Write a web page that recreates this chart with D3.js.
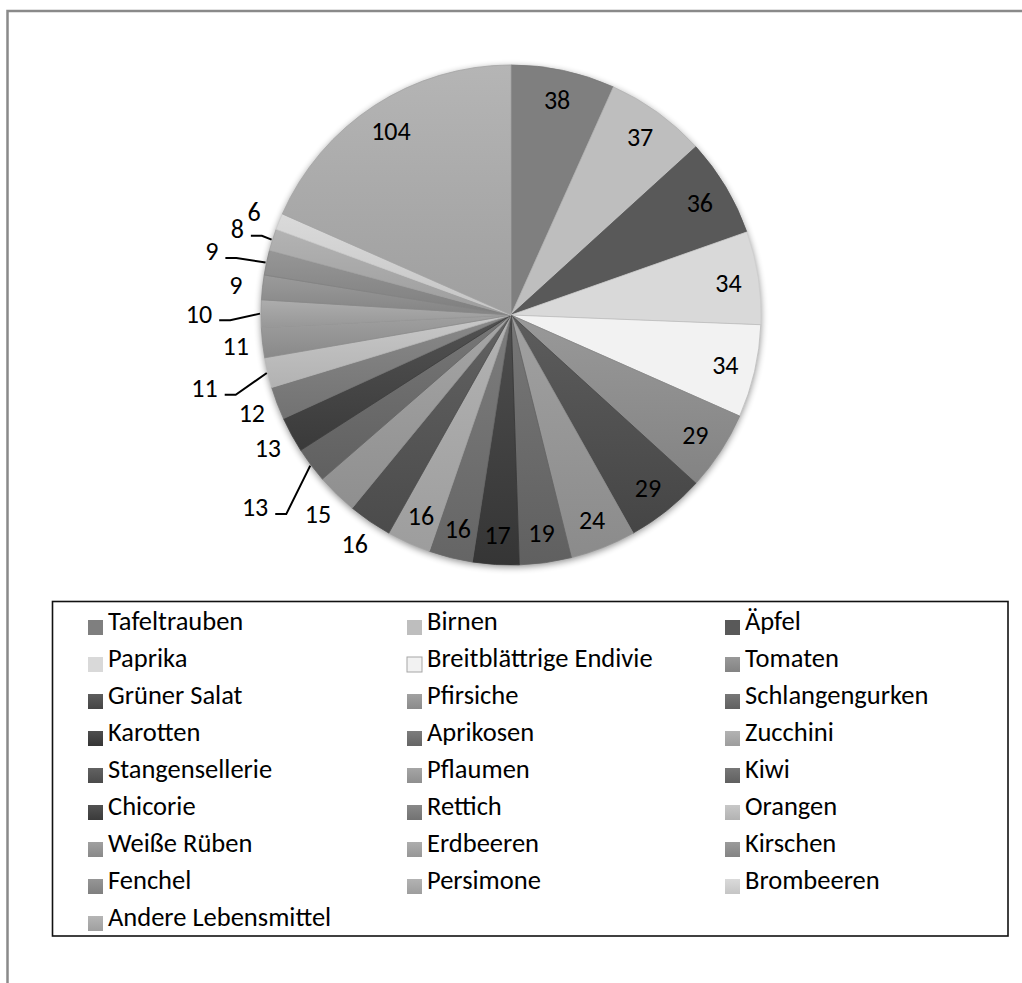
<!DOCTYPE html>
<html>
<head>
<meta charset="utf-8">
<script src="https://cdn.jsdelivr.net/npm/d3@7"></script>
<style>
html,body{margin:0;padding:0;background:#fff;overflow:hidden}
text{font-family:Carlito,Lato,"Open Sans",sans-serif;fill:#000}
</style>
</head>
<body>
<svg id="chart" width="1022" height="983"></svg>
<script>
// ---- data ----
const categories = ["Tafeltrauben","Birnen","Äpfel","Paprika","Breitblättrige Endivie","Tomaten",
  "Grüner Salat","Pfirsiche","Schlangengurken","Karotten","Aprikosen","Zucchini",
  "Stangensellerie","Pflaumen","Kiwi","Chicorie","Rettich","Orangen",
  "Weiße Rüben","Erdbeeren","Kirschen","Fenchel","Persimone","Brombeeren","Andere Lebensmittel"];
const values = [38,37,36,34,34,29,29,24,19,17,16,16,16,15,13,13,12,11,11,10,9,9,8,6,104];
const palette = ["#7f7f7f","#bebebe","#595959","#d9d9d9","#f2f2f2","#8e8e8e",
  "#4b4b4b","#979797","#686868","#3a3a3a","#6e6e6e","#ababab",
  "#515151","#9b9b9b","#686868","#3f3f3f","#7c7c7c","#c2c2c2",
  "#959595","#a4a4a4","#909090","#8a8a8a","#ababab","#d6d6d6","#adadad"];

// ---- layout ----
const W = 1022, H = 983;
const cx = 511, cy = 315, R = 250;
const rInside = 220, rOutside = 277, rEdge = 251;
const outsidePlain = new Set(["Stangensellerie","Pflaumen","Chicorie","Rettich","Weiße Rüben","Kirschen","Brombeeren"]);
const leaderRadius = {"Kiwi":320,"Orangen":315,"Erdbeeren":312,"Fenchel":306,"Persimone":287};

const svg = d3.select("#chart");
const defs = svg.append("defs");

// outer frame
svg.append("path")
  .attr("d", `M7.5,${H+2} V11 H${W+2}`)
  .attr("fill","none").attr("stroke","#8a8a8a").attr("stroke-width",2.5);

// shadow
const f = defs.append("filter").attr("id","sh").attr("x","-20%").attr("y","-20%").attr("width","140%").attr("height","140%");
f.append("feGaussianBlur").attr("in","SourceAlpha").attr("stdDeviation",3.5);
f.append("feOffset").attr("dx",0).attr("dy",2).attr("result","b");
f.append("feComponentTransfer").append("feFuncA").attr("type","linear").attr("slope",0.45);

const data = categories.map((c,i)=>({name:c, value:values[i], color:palette[i], i}));

// gradients
data.forEach(d=>{
  const g = defs.append("linearGradient").attr("id","g"+d.i)
    .attr("x1",0).attr("y1",0).attr("x2",0).attr("y2",1);
  const base = d3.color(d.color);
  const top = d3.interpolateRgb(base, "#fff")(0.10);
  const bot = d3.interpolateRgb(base, "#000")(0.08);
  g.append("stop").attr("offset","0%").attr("stop-color", d.i < 5 ? d.color : top);
  g.append("stop").attr("offset","100%").attr("stop-color", d.i < 5 ? d.color : bot);
});

const pie = d3.pie().value(d=>d.value).sort(null).startAngle(0).endAngle(2*Math.PI);
const arcs = pie(data);
const arc = d3.arc().innerRadius(0).outerRadius(R);

const gp = svg.append("g").attr("transform",`translate(${cx},${cy})`);
gp.append("circle").attr("r",R).attr("fill","#888").attr("filter","url(#sh)");
gp.selectAll("path.slice").data(arcs).join("path")
  .attr("class","slice")
  .attr("d", arc)
  .attr("fill", d=>`url(#g${d.data.i})`)
  .attr("stroke", d=> d.data.i===4 ? "#bdbdbd" : d3.color(d.data.color).darker(0.15))
  .attr("stroke-width", 0.8);

// labels
const FS = 26;
const polar = (r,a)=>[r*Math.sin(a), -r*Math.cos(a)];
const lg = svg.append("g").attr("transform",`translate(${cx},${cy})`);
arcs.forEach(d=>{
  const name = d.data.name;
  const mid = (d.startAngle + d.endAngle)/2;
  let r = rInside;
  if (outsidePlain.has(name)) r = rOutside;
  if (leaderRadius[name]) r = leaderRadius[name];
  const [x,y] = polar(r, mid);
  const t = lg.append("text").attr("x",x).attr("y",y).attr("dy","0.36em")
    .attr("text-anchor","middle").attr("font-size",FS).text(d.data.value);
  if (leaderRadius[name]) {
    const w = t.node().getComputedTextLength();
    const sx = x + w/2 + 7, sy = y + 7;
    const [ex,ey] = polar(rEdge, mid);
    const pts = [[sx,sy],[sx+11,sy],[ex,ey]];
    lg.append("path").attr("d", d3.line()(pts))
      .attr("fill","none").attr("stroke","#000").attr("stroke-width",2);
  }
});

// legend
svg.append("rect").attr("x",52.5).attr("y",601.5).attr("width",955.5).attr("height",334.5)
  .attr("fill","none").attr("stroke","#111").attr("stroke-width",1.6);
const colX = [88, 407, 725];
const rowY0 = 630, rowH = 37;
const leg = svg.append("g");
data.forEach((d,k)=>{
  const col = k % 3, row = Math.floor(k/3);
  const x = colX[col], y = rowY0 + row*rowH;
  leg.append("rect").attr("x",x).attr("y",y-10).attr("width",15).attr("height",15)
    .attr("fill",`url(#g${d.i})`)
    .attr("stroke", d.i===4 ? "#a6a6a6" : "none").attr("stroke-width",1);
  leg.append("text").attr("x",x+20).attr("y",y).attr("font-size",26.5).text(d.name);
});
</script>
</body>
</html>
